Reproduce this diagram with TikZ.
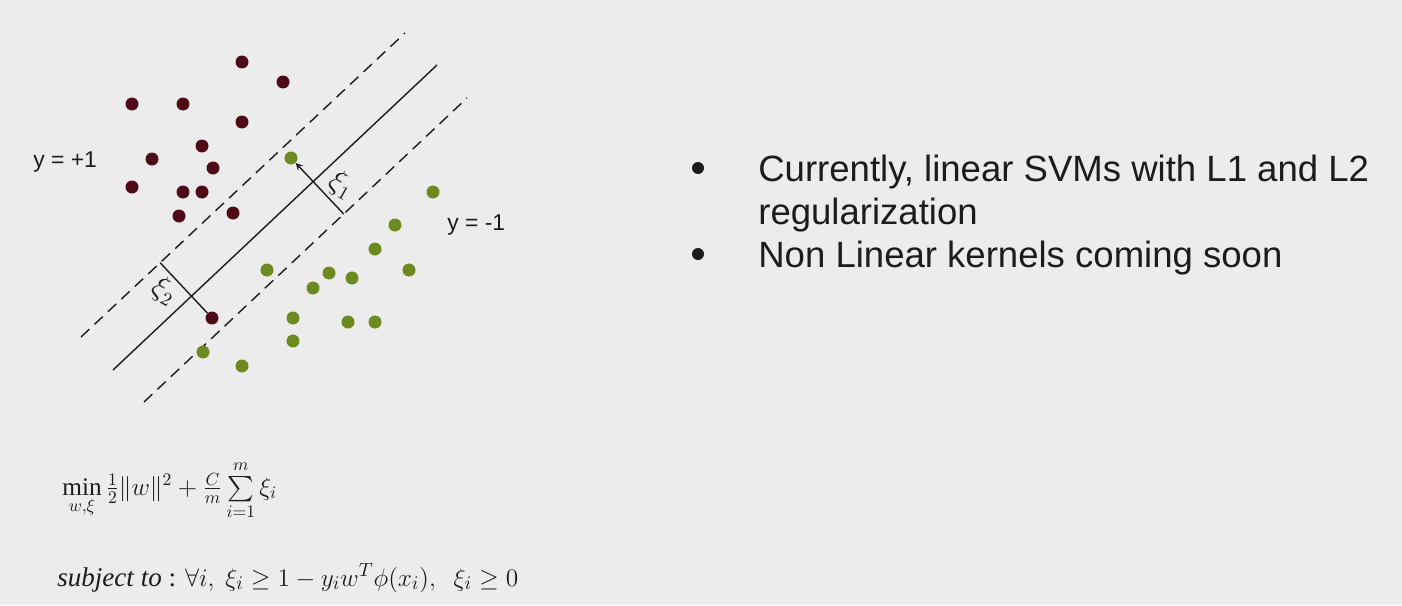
\documentclass[tikz,border=0pt]{standalone}
\usepackage{amsmath,amssymb}
\usepackage{fontspec}
\setmainfont{Liberation Serif}
\setsansfont{Liberation Sans}
\usetikzlibrary{arrows, positioning, calc}

\definecolor{slidebg}{RGB}{236,236,236}
\definecolor{posdot}{RGB}{78,10,22}
\definecolor{negdot}{RGB}{108,138,32}
\definecolor{inktext}{RGB}{28,28,28}

\begin{document}
\begin{tikzpicture}[
    x=0.02cm, y=-0.02cm,
    dot/.style={circle, inner sep=0pt, minimum size=0.26cm},
    posclass/.style={dot, fill=posdot},
    negclass/.style={dot, fill=negdot},
    boundary/.style={line width=0.8pt, draw=inktext},
    margin/.style={line width=0.8pt, draw=inktext, dash pattern=on 6.5pt off 4pt},
    slack/.style={line width=0.8pt, draw=inktext},
    slacklabel/.style={font=\fontsize{16}{18}\selectfont, text=inktext, rotate=-30, inner sep=0pt},
    classlabel/.style={font=\sffamily\fontsize{13}{15}\selectfont, text=inktext, anchor=base west, inner sep=0pt},
    bullettext/.style={font=\sffamily\fontsize{20.8}{24.4}\selectfont, text=inktext, anchor=base west, align=left, inner sep=0pt},
    bulletdot/.style={circle, fill=inktext, inner sep=0pt, minimum size=0.24cm}
]

% Background
\fill[slidebg] (0,0) rectangle (1402,605);
\useasboundingbox (0,0) rectangle (1402,605);

% Hyperplane and margins
\coordinate (up1) at (81,337);  \coordinate (up2) at (405,33);
\coordinate (hp1) at (113,370); \coordinate (hp2) at (437,65);
\coordinate (lo1) at (144,402); \coordinate (lo2) at (467,98);
\draw[margin] (up1) -- (up2);
\draw[boundary] (hp1) -- (hp2);
\draw[margin] (lo1) -- (lo2);

% Class +1
\foreach \px/\py [count=\i] in {242/62, 283/82, 132/104, 183/104, 242/122,
    202/146, 152/159, 213/168, 132/187, 183/192, 202/192, 179/216, 233/213}
  \node[posclass] (pos\i) at (\px,\py) {};
\node[posclass] (posout) at (212,318) {};

% Class -1
\foreach \px/\py [count=\i] in {433/192, 395/225, 375/249, 267/270, 329/273,
    352/278, 409/270, 313/288, 293/318, 348/322, 375/322, 293/341, 203/352, 242/366}
  \node[negclass] (neg\i) at (\px,\py) {};
\node[negclass] (negout) at (291,158) {};

% Slack variables
\coordinate (xi1foot) at ($(lo1)!(negout)!(lo2)$);
\coordinate (xi2foot) at ($(up1)!(posout)!(up2)$);
\draw[slack, -stealth] (xi1foot) -- (negout);
\draw[slack] (xi2foot) -- (posout);
\node[slacklabel] (xi1) at (341,185) {$\xi_1$};
\node[slacklabel] (xi2) at (164,291) {$\xi_2$};

% Class labels
\node[classlabel] (pluslabel) at (33,167) {y = +1};
\node[classlabel] (minuslabel) at (447,230) {y = -1};

% Bullets
\node[bullettext] (item1) at (758,224) {Currently, linear SVMs with L1 and L2\\regularization};
\node[bullettext] (item2) at (758,267) {Non Linear kernels coming soon};
\node[bulletdot] (dot1) at (698,168) {};
\node[bulletdot] (dot2) at (698,254) {};

% Optimisation problem
\node[anchor=base west, inner sep=0pt, text=inktext, font=\fontsize{14.4}{16}\selectfont] (objective) at (62,495)
  {$\min\limits_{w,\xi}\tfrac{1}{2}\|w\|^2+\tfrac{C}{m}\sum\limits_{i=1}^{m}\xi_i$};
\node[anchor=base west, inner sep=0pt, text=inktext, font=\fontsize{15.4}{18}\selectfont] (constraint) at (57,586)
  {\textit{subject to} : $\forall i,\ \xi_i\geq 1-y_i w^{T}\phi(x_i),\ \ \xi_i\geq 0$};

\end{tikzpicture}
\end{document}
